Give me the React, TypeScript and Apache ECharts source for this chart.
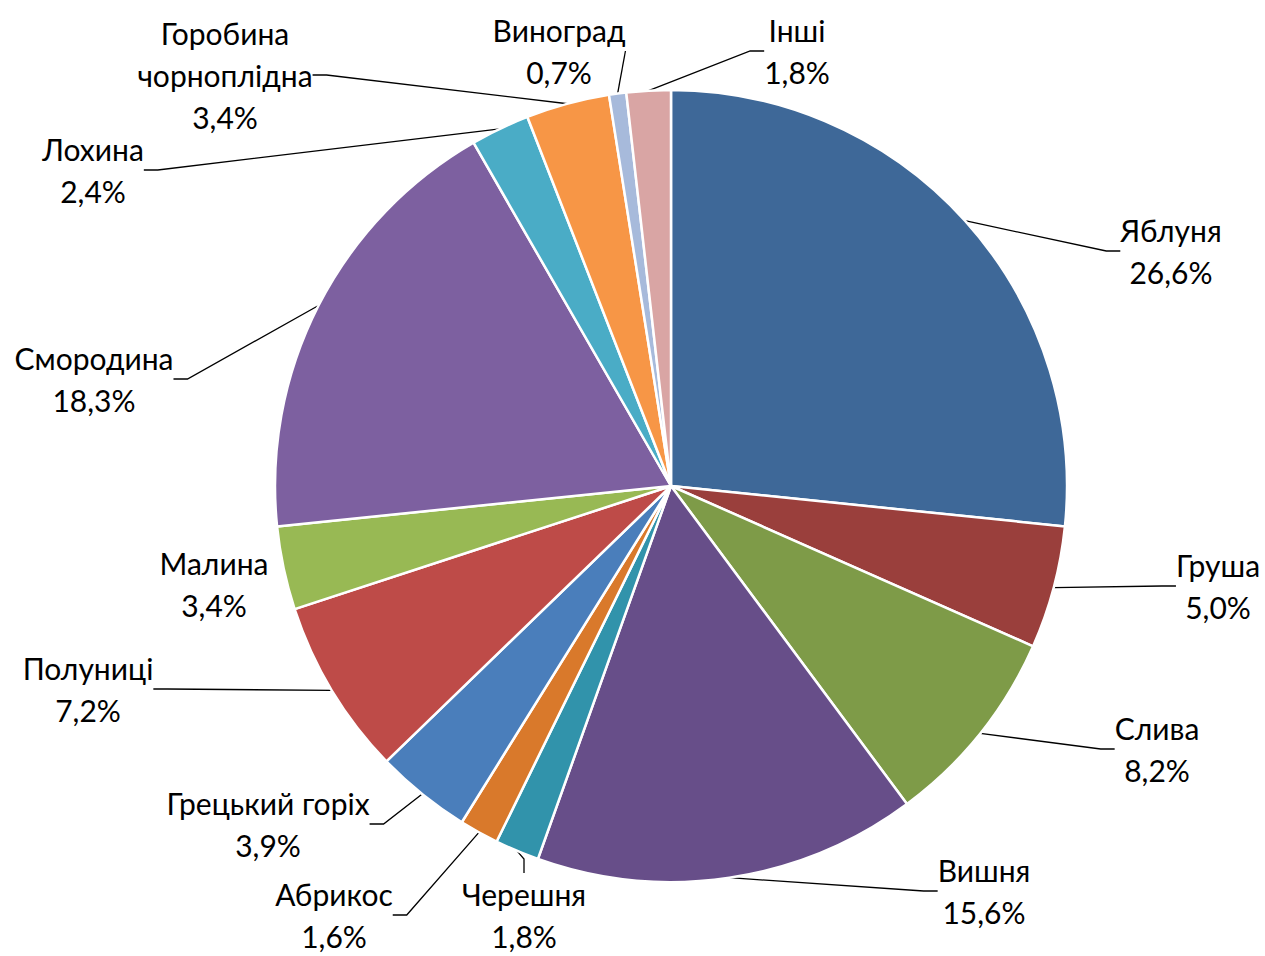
import React, { useEffect, useRef } from "react";
import * as echarts from "echarts";

// Categories (clockwise from 12 o'clock) and their shares, %
const categories = [
  "Яблуня",
  "Груша",
  "Слива",
  "Вишня",
  "Черешня",
  "Абрикос",
  "Грецький горіх",
  "Полуниці",
  "Малина",
  "Смородина",
  "Лохина",
  "Горобина чорноплідна",
  "Виноград",
  "Інші",
];
const shares = [26.6, 5.0, 8.2, 15.6, 1.8, 1.6, 3.9, 7.2, 3.4, 18.3, 2.4, 3.4, 0.7, 1.8];

// Slice colours
const sliceColors = [
  "#3E6898",
  "#9A3F3C",
  "#7E9B48",
  "#674E89",
  "#3193AB",
  "#D9792B",
  "#4A7EBB",
  "#BE4B48",
  "#98B954",
  "#7D60A0",
  "#4AACC6",
  "#F79646",
  "#A7BADB",
  "#D9A5A4",
];

// Label block centres (layout, px)
const labelCenters: [number, number][] = [
  [1171, 251],
  [1218, 586],
  [1157, 749],
  [984, 891],
  [524, 915],
  [334, 915],
  [268, 824],
  [88, 689],
  [214, 584],
  [94, 379],
  [93, 170],
  [225, 75],
  [559, 51],
  [797, 51],
];

// Labels drawn without a leader line
const noLeader = ["Малина"];

const fmtPct = (v: number) => v.toFixed(1).replace(".", ",") + "%";

export default function App() {
  const ref = useRef<HTMLDivElement>(null);

  useEffect(() => {
    if (!ref.current) return;
    const chart = echarts.init(ref.current, undefined, { renderer: "svg" });
    const data = categories.map((name, i) => ({
      name,
      value: shares[i],
      itemStyle: { color: sliceColors[i] },
      labelLine: { show: !noLeader.includes(name) },
    }));
    chart.setOption({
      animation: false,
      backgroundColor: "#ffffff",
      series: [
        {
          type: "pie",
          center: [671, 486],
          radius: [0, 396],
          startAngle: 90,
          clockwise: true,
          avoidLabelOverlap: false,
          data,
          itemStyle: { borderColor: "#ffffff", borderWidth: 2.5 },
          label: {
            show: true,
            position: "outside",
            fontFamily: "Lato, 'Noto Sans', sans-serif",
            fontSize: 30,
            lineHeight: 42,
            color: "#000000",
            align: "center",
            formatter: (p: any) => {
              const nm: string = p.name.length > 16 ? p.name.replace(" ", "\n") : p.name;
              return nm + "\n" + fmtPct(p.value);
            },
          },
          labelLine: {
            show: true,
            length: 20,
            length2: 14,
            smooth: false,
            lineStyle: { color: "#000000", width: 1.3 },
          },
          labelLayout: (params: any) => {
            const c = labelCenters[params.dataIndex];
            return { x: c[0], y: c[1], align: "center", verticalAlign: "middle" };
          },
          emphasis: { disabled: true },
        },
      ],
    });
    return () => chart.dispose();
  }, []);

  return (
    <div
      ref={ref}
      style={{ position: "absolute", left: 0, top: 0, width: 1265, height: 956 }}
    />
  );
}
